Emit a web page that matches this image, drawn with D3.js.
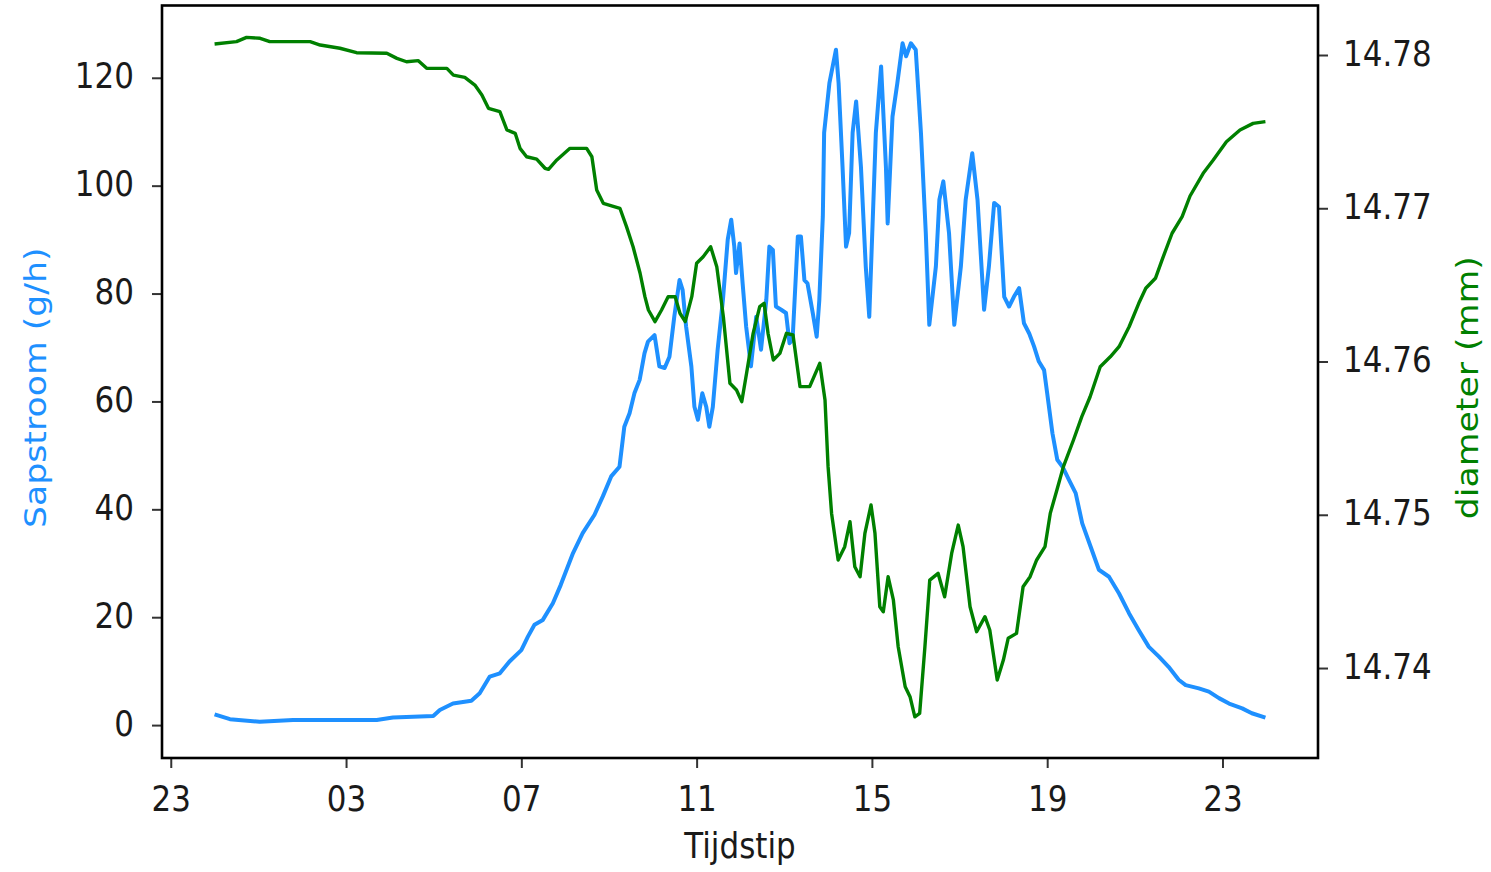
<!DOCTYPE html>
<html>
<head>
<meta charset="utf-8">
<script src="https://cdn.jsdelivr.net/npm/d3@7"></script>
<style>
  html, body { margin: 0; padding: 0; background: #fff; }
  svg { display: block; }
  text { font-family: "DejaVu Sans", sans-serif; }
</style>
</head>
<body>
<svg id="chart" width="1491" height="872"></svg>
<script>
// ---- data (hours since midnight) ----
const sapHours = [0.00,0.35,1.03,1.79,3.70,4.07,4.99,5.14,5.44,5.86,6.05,6.28,6.51,6.73,7.00,7.15,7.30,7.49,7.72,7.90,8.18,8.40,8.67,8.86,9.05,9.24,9.35,9.47,9.58,9.70,9.81,9.89,10.04,10.15,10.27,10.38,10.49,10.61,10.68,10.76,10.88,10.95,11.03,11.13,11.22,11.29,11.37,11.48,11.60,11.71,11.79,11.86,11.90,11.98,12.05,12.13,12.24,12.36,12.47,12.59,12.66,12.74,12.81,12.93,13.04,13.12,13.19,13.31,13.38,13.46,13.53,13.65,13.74,13.80,13.88,13.91,14.03,14.18,14.24,14.33,14.41,14.48,14.56,14.64,14.75,14.86,14.94,15.09,15.21,15.32,15.36,15.47,15.58,15.70,15.78,15.89,16.00,16.12,16.23,16.31,16.46,16.54,16.63,16.76,16.88,17.03,17.14,17.29,17.41,17.56,17.67,17.79,17.90,18.02,18.13,18.24,18.36,18.47,18.59,18.70,18.81,18.93,19.00,19.12,19.23,19.35,19.50,19.65,19.80,19.99,20.18,20.41,20.64,20.87,21.09,21.32,21.55,21.77,22.00,22.16,22.46,22.69,22.92,23.15,23.45,23.67,23.98];
const sapFlow = [2.0,1.1,0.6,0.95,0.95,1.4,1.7,2.8,4.0,4.5,5.9,9.0,9.6,11.8,13.9,16.4,18.6,19.5,22.6,26.0,31.9,35.6,39.0,42.4,46.1,47.9,55.3,57.8,61.5,64.0,68.9,71.1,72.3,66.5,66.2,68.3,75.7,82.5,80.7,73.9,66.5,59.0,56.6,61.5,59.0,55.3,59.0,69.6,78.8,90.0,93.7,88.7,83.8,89.3,81.9,73.9,66.5,75.7,69.6,78.8,88.7,88.1,77.6,77.0,76.4,70.8,71.4,90.6,90.6,82.5,81.9,76.4,72.0,78.8,94.3,109.8,119.0,125.2,119.0,103.5,88.7,91.2,109.8,115.6,103.5,85.0,75.7,109.8,122.1,103.5,93.0,112.8,119.0,126.4,124.0,126.4,125.2,109.7,91.2,74.2,85.0,97.4,100.8,91.2,74.2,85.0,97.4,106.0,97.4,77.0,85.0,96.8,96.1,79.4,77.6,79.4,81.0,74.5,72.6,70.2,67.4,65.8,61.5,54.1,49.2,47.9,45.4,43.0,37.4,33.1,28.8,27.5,24.4,20.7,17.6,14.5,12.7,10.8,8.4,7.4,6.8,6.2,5.0,4.0,3.1,2.2,1.4];

const diaHours = [0.00,0.50,0.73,1.04,1.26,2.18,2.41,2.86,3.24,3.93,4.16,4.38,4.65,4.84,5.30,5.45,5.71,5.94,6.10,6.25,6.51,6.67,6.86,6.97,7.12,7.35,7.54,7.62,7.81,8.11,8.49,8.61,8.72,8.87,9.25,9.40,9.55,9.71,9.82,9.90,10.05,10.20,10.35,10.51,10.62,10.74,10.89,11.00,11.15,11.32,11.46,11.61,11.76,11.91,12.03,12.14,12.29,12.44,12.54,12.63,12.75,12.90,13.05,13.20,13.36,13.58,13.81,13.93,14.00,14.08,14.23,14.38,14.50,14.61,14.73,14.84,14.98,15.07,15.18,15.26,15.37,15.49,15.60,15.76,15.87,15.98,16.09,16.21,16.32,16.51,16.66,16.82,16.97,17.08,17.24,17.39,17.58,17.69,17.86,18.00,18.11,18.30,18.45,18.61,18.76,18.95,19.07,19.22,19.37,19.60,19.79,19.98,20.21,20.44,20.64,20.87,21.09,21.25,21.47,21.62,21.85,22.08,22.26,22.56,22.79,23.09,23.40,23.70,23.98];
const diameter = [14.78072,14.78087,14.78115,14.78109,14.78087,14.78087,14.78065,14.78044,14.78015,14.78011,14.77978,14.77956,14.77963,14.77913,14.77913,14.77869,14.77854,14.77804,14.77739,14.77652,14.77630,14.77511,14.77489,14.77391,14.77336,14.77320,14.77261,14.77254,14.77315,14.77391,14.77391,14.77336,14.77119,14.77032,14.77000,14.76880,14.76749,14.76576,14.76423,14.76336,14.76260,14.76336,14.76423,14.76423,14.76315,14.76260,14.76423,14.76641,14.76684,14.76749,14.76619,14.76293,14.75858,14.75814,14.75738,14.75923,14.76184,14.76358,14.76380,14.76184,14.76010,14.76053,14.76184,14.76173,14.75836,14.75836,14.75988,14.75749,14.75314,14.75009,14.74705,14.74792,14.74955,14.74661,14.74596,14.74879,14.75064,14.74879,14.74400,14.74367,14.74596,14.74444,14.74139,14.73878,14.73813,14.73682,14.73704,14.74139,14.74574,14.74618,14.74465,14.74748,14.74933,14.74792,14.74400,14.74237,14.74335,14.74248,14.73922,14.74052,14.74194,14.74226,14.74530,14.74596,14.74705,14.74792,14.75009,14.75160,14.75314,14.75488,14.75640,14.75770,14.75966,14.76031,14.76097,14.76227,14.76380,14.76478,14.76543,14.76662,14.76837,14.76945,14.77080,14.77228,14.77315,14.77434,14.77511,14.77554,14.77565];

const xTickHours = [-1, 3, 7, 11, 15, 19, 23];
const xTickLabels = ["23", "03", "07", "11", "15", "19", "23"];
const yLeftTicks = [0, 20, 40, 60, 80, 100, 120];
const yRightTicks = [14.74, 14.75, 14.76, 14.77, 14.78];

// ---- layout ----
const svg = d3.select("#chart");
const W = 1491, H = 872;
const plot = { left: 162, right: 1318, top: 5.5, bottom: 758 };
const blue = "#1e90ff", green = "#008000", ink = "#1a1a1a";
const stretch = 1.12; // glyphs in the reference are slightly taller than wide

svg.append("rect").attr("width", W).attr("height", H).attr("fill", "#fff");

const x = d3.scaleLinear().domain([-1.2, 25.18]).range([plot.left, plot.right]);
const yL = d3.scaleLinear().domain([-6.1, 133.4]).range([plot.bottom, plot.top]);
const yR = d3.scaleLinear().domain([14.73413, 14.78323]).range([plot.bottom, plot.top]);

const sapData = sapHours.map((h, i) => [h, sapFlow[i]]);
const diaData = diaHours.map((h, i) => [h, diameter[i]]);

// lines
svg.append("path")
  .datum(sapData)
  .attr("fill", "none")
  .attr("stroke", blue)
  .attr("stroke-width", 4)
  .attr("stroke-linejoin", "round")
  .attr("d", d3.line().x(d => x(d[0])).y(d => yL(d[1])));

svg.append("path")
  .datum(diaData)
  .attr("fill", "none")
  .attr("stroke", green)
  .attr("stroke-width", 3.4)
  .attr("stroke-linejoin", "round")
  .attr("d", d3.line().x(d => x(d[0])).y(d => yR(d[1])));

// axes
const fs = 31;
function styleAxis(g) {
  g.select(".domain").remove();
  g.selectAll(".tick line").attr("stroke", "#333").attr("stroke-width", 2);
  g.selectAll(".tick text").attr("fill", ink).style("font-size", fs + "px").style("font-family", "DejaVu Sans, sans-serif");
}

svg.append("g")
  .attr("transform", `translate(0,${plot.bottom})`)
  .call(d3.axisBottom(x).tickValues(xTickHours).tickFormat((d, i) => xTickLabels[i]).tickSize(10).tickPadding(15))
  .call(styleAxis)
  .call(g => g.selectAll(".tick text").attr("transform", `scale(1,${stretch})`));

svg.append("g")
  .attr("transform", `translate(${plot.left},0)`)
  .call(d3.axisLeft(yL).tickValues(yLeftTicks).tickFormat(d3.format("d")).tickSize(10).tickPadding(18))
  .call(styleAxis)
  .call(g => g.selectAll(".tick text").attr("dy", "0.29em").attr("transform", `scale(1,${stretch})`));

svg.append("g")
  .attr("transform", `translate(${plot.right},0)`)
  .call(d3.axisRight(yR).tickValues(yRightTicks).tickFormat(d3.format(".2f")).tickSize(10).tickPadding(15))
  .call(styleAxis)
  .call(g => g.selectAll(".tick text").attr("dy", "0.29em").attr("transform", `scale(1,${stretch})`));

// frame
svg.append("rect")
  .attr("x", plot.left).attr("y", plot.top)
  .attr("width", plot.right - plot.left).attr("height", plot.bottom - plot.top)
  .attr("fill", "none").attr("stroke", "#000").attr("stroke-width", 2.6);

// axis titles
const cy = (plot.top + plot.bottom) / 2;
svg.append("text")
  .attr("transform", `translate(46,${cy + 6}) rotate(-90) scale(${stretch},1)`)
  .attr("text-anchor", "middle")
  .attr("fill", blue)
  .style("font-size", fs + "px")
  .text("Sapstroom (g/h)");

svg.append("text")
  .attr("transform", `translate(1478,${cy + 6}) rotate(-90) scale(${stretch},1)`)
  .attr("text-anchor", "middle")
  .attr("fill", green)
  .style("font-size", fs + "px")
  .text("diameter (mm)");

svg.append("text")
  .attr("transform", `translate(${(plot.left + plot.right) / 2},858) scale(1,${stretch})`)
  .attr("text-anchor", "middle")
  .attr("fill", ink)
  .style("font-size", fs + "px")
  .text("Tijdstip");
</script>
</body>
</html>
